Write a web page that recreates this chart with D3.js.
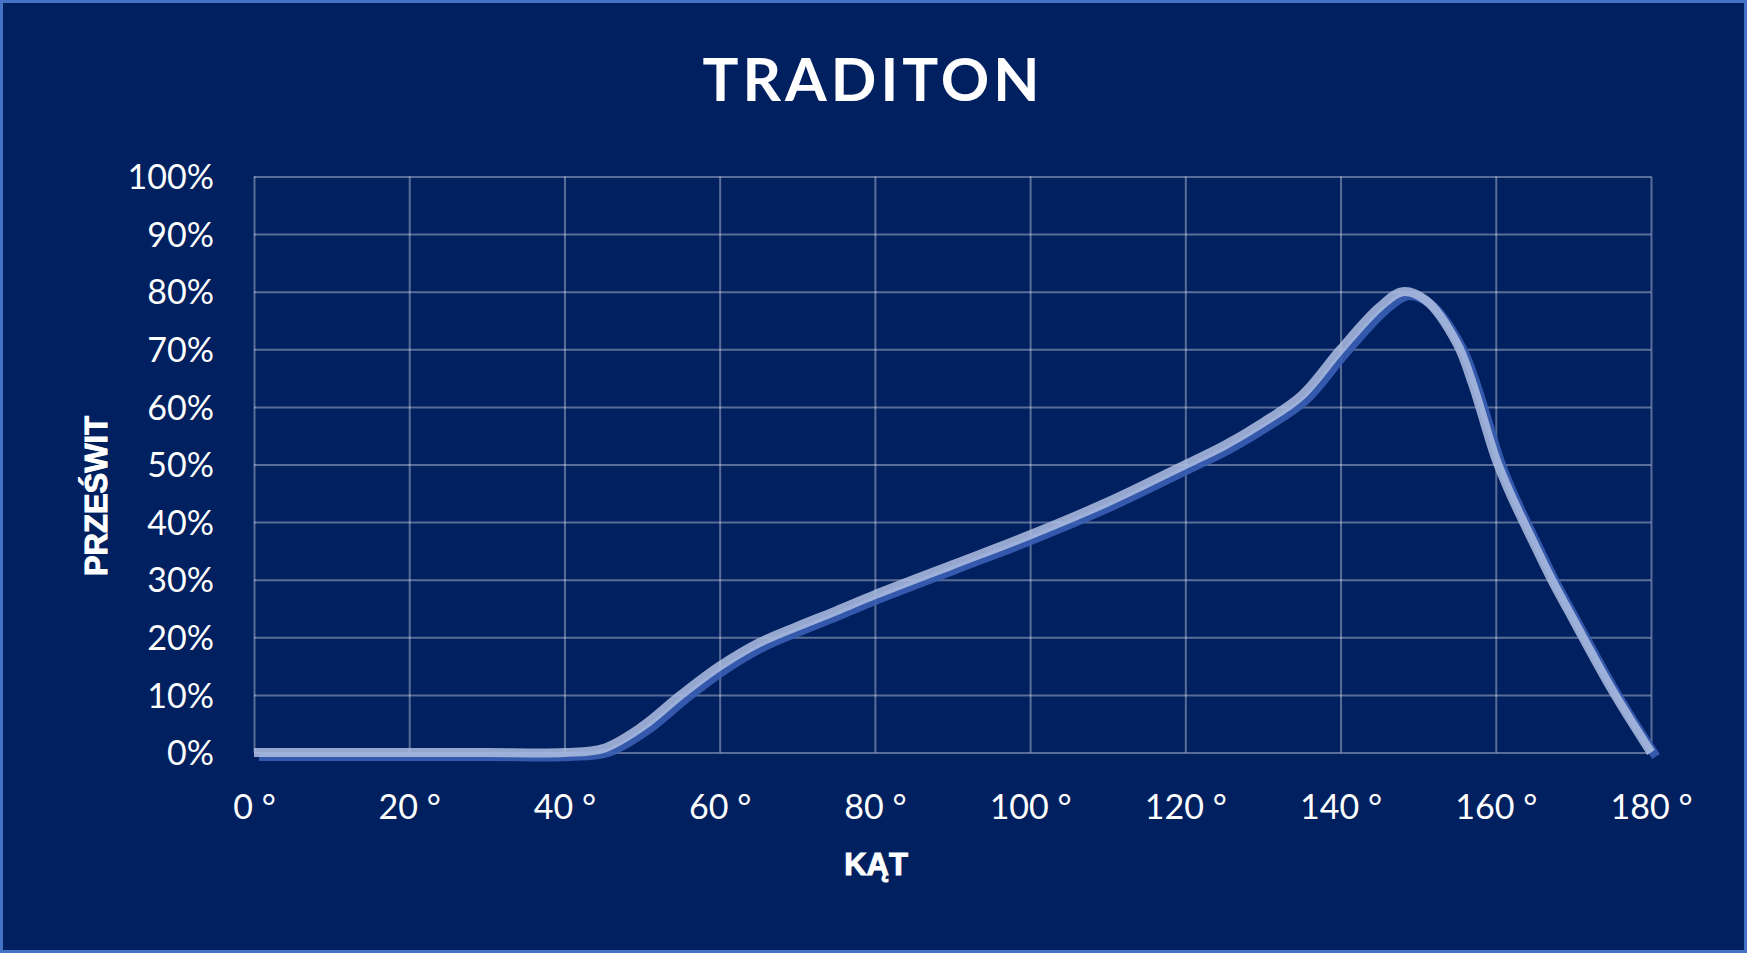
<!DOCTYPE html>
<html>
<head>
<meta charset="utf-8">
<script src="https://cdn.jsdelivr.net/npm/d3@7"></script>
<style>
  html, body { margin: 0; padding: 0; background: #002060; }
  svg { display: block; }
</style>
</head>
<body>
<svg width="1747" height="953"></svg>
<script>
// data
const angles = [0, 10, 20, 30, 40, 45, 50, 55, 60, 65, 70, 75, 80, 90, 100, 110, 120, 125, 130, 135, 140, 145, 148, 151, 155, 157, 160, 162, 165, 167, 170, 175, 180];
const values = [0, 0, 0, 0, 0, 0.7, 4.5, 10, 15, 19, 21.9, 24.6, 27.4, 32.6, 37.8, 43.5, 50, 53.3, 57.3, 62, 70, 77.3, 80, 78.5, 71, 64, 51, 44.5, 36, 30.5, 23, 10.8, 0];
const xTicks = [0, 20, 40, 60, 80, 100, 120, 140, 160, 180];
const yTicks = [0, 10, 20, 30, 40, 50, 60, 70, 80, 90, 100];

const chartTitle = 'TRADITON';
const xTitle = 'KĄT';
const yTitle = 'PRZEŚWIT';

const svg = d3.select('svg');
const width = +svg.attr('width');
const height = +svg.attr('height');

const render = () => {
	const margin = { top: 176.5, right: 96, bottom: 200.5, left: 254 };
	const innerWidth = width - margin.left - margin.right;
	const innerHeight = height - margin.top - margin.bottom;

	// frame
	svg.append('rect')
		.attr('x', 1.5).attr('y', 1.5)
		.attr('width', width - 3).attr('height', height - 3)
		.attr('fill', '#002060')
		.attr('stroke', '#4472c4')
		.attr('stroke-width', 3);

	const xS = d3.scaleLinear().domain([0, 180]).range([0, innerWidth]);
	const yS = d3.scaleLinear().domain([0, 100]).range([innerHeight, 0]);

	const g = svg.append('g')
		.attr('transform', `translate(${margin.left},${margin.top})`);

	// grid via axes
	const xGrid = g.append('g')
		.attr('transform', `translate(0,${innerHeight})`)
		.call(d3.axisBottom(xS).tickValues(xTicks).tickSize(-innerHeight).tickFormat(''));
	const yGrid = g.append('g')
		.call(d3.axisLeft(yS).tickValues(yTicks).tickSize(-innerWidth).tickFormat(''));
	[xGrid, yGrid].forEach(a => {
		a.select('.domain').remove();
		a.selectAll('line')
			.attr('stroke', '#ffffff')
			.attr('stroke-opacity', 0.35)
			.attr('stroke-width', 2);
	});

	// tick labels
	const xag = g.append('g')
		.attr('transform', `translate(0,${innerHeight})`)
		.call(d3.axisBottom(xS).tickValues(xTicks).tickSize(0).tickPadding(0).tickFormat(d => d + ' °'));
	xag.select('.domain').remove();
	xag.selectAll('text')
		.attr('y', 66)
		.attr('dy', 0)
		.attr('fill', '#ffffff')
		.style('font-family', 'Lato, "Open Sans", sans-serif')
		.style('font-size', '34px');

	const yag = g.append('g')
		.call(d3.axisLeft(yS).tickValues(yTicks).tickSize(0).tickPadding(40).tickFormat(d => d + '%'));
	yag.select('.domain').remove();
	yag.selectAll('text')
		.attr('dy', '0.36em')
		.attr('fill', '#ffffff')
		.style('font-family', 'Lato, "Open Sans", sans-serif')
		.style('font-size', '34px');

	// curve
	const data = angles.map((a, i) => [a, values[i]]);
	const line = d3.line()
		.x(d => xS(d[0]))
		.y(d => yS(d[1]))
		.curve(d3.curveCatmullRom.alpha(0.5));

	g.append('path')
		.datum(data)
		.attr('d', line)
		.attr('transform', 'translate(5,4)')
		.attr('fill', 'none')
		.attr('stroke', '#3a5eb4')
		.attr('stroke-opacity', 0.9)
		.attr('stroke-width', 9)
		.attr('stroke-linejoin', 'round');

	g.append('path')
		.datum(data)
		.attr('d', line)
		.attr('fill', 'none')
		.attr('stroke', '#afc0e2')
		.attr('stroke-opacity', 0.85)
		.attr('stroke-width', 9)
		.attr('stroke-linejoin', 'round');

	// titles
	svg.append('text')
		.attr('x', 873)
		.attr('y', 101)
		.attr('text-anchor', 'middle')
		.attr('fill', '#ffffff')
		.style('font-family', 'Lato, "Open Sans", sans-serif')
		.style('font-weight', 700)
		.style('font-size', '60px')
		.style('letter-spacing', '4px')
		.text(chartTitle);

	svg.append('text')
		.attr('x', 876)
		.attr('y', 875)
		.attr('text-anchor', 'middle')
		.attr('fill', '#ffffff')
		.attr('stroke', '#ffffff')
		.attr('stroke-width', 1)
		.style('font-family', '"Liberation Sans", Arial, sans-serif')
		.style('font-weight', 700)
		.style('font-size', '31px')
		.text(xTitle);

	svg.append('text')
		.attr('transform', 'translate(107,496) rotate(-90)')
		.attr('text-anchor', 'middle')
		.attr('fill', '#ffffff')
		.attr('stroke', '#ffffff')
		.attr('stroke-width', 1)
		.style('font-family', '"Liberation Sans", Arial, sans-serif')
		.style('font-weight', 700)
		.style('font-size', '31px')
		.text(yTitle);
};

render();
</script>
</body>
</html>
